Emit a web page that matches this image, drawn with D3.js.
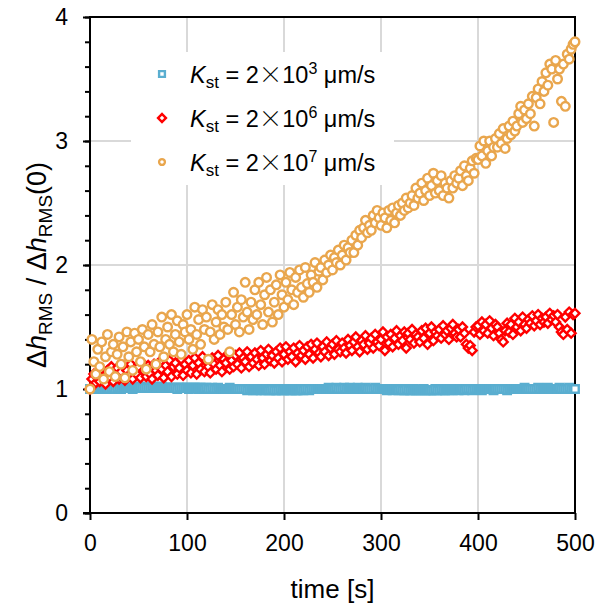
<!DOCTYPE html>
<html lang="en">
<head>
    <meta charset="UTF-8">
    <title>Δh_RMS ratio vs time</title>
    <script src="https://d3js.org/d3.v7.min.js"></script>
    <style>
        body { margin: 0; background: #fff; }
        svg text { font-family: "Liberation Sans", Arial, sans-serif; fill: #000; }
        .grid line { stroke: #d9d9d9; stroke-width: 2; }
        .axis path, .axis line { stroke: #000; stroke-width: 2; }
        .axis text { font-size: 23px; }
    </style>
</head>
<body>
<svg width="598" height="606"></svg>
<script>
    // time axis [s], sampled every 2 s
    const times = d3.range(0, 501, 2);

    // Kst = 2x10^3 um/s (blue squares)
    const blueVals = [
        1.00,1.00,1.00,1.01,1.00,1.00,1.01,1.00,1.01,1.01,
        1.00,1.01,1.01,1.00,1.01,1.01,1.00,1.01,1.01,1.01,
        1.01,1.01,1.00,1.01,1.01,1.01,1.02,1.01,1.01,1.01,
        1.01,1.01,1.02,1.01,1.01,1.01,1.01,1.02,1.01,1.01,
        1.01,1.01,1.01,1.01,1.01,1.00,1.01,1.01,1.01,1.01,
        1.01,1.00,1.01,1.01,1.01,1.01,1.00,1.01,1.01,1.00,
        1.01,1.00,1.00,1.01,1.00,1.00,1.01,1.00,1.00,1.00,
        1.00,1.00,1.01,1.00,1.00,1.00,1.00,1.00,1.00,1.00,
        1.00,0.99,1.00,1.00,0.99,1.00,0.99,1.00,0.99,1.00,
        0.99,1.00,0.99,0.99,1.00,0.99,0.99,0.99,1.00,0.99,
        0.99,1.00,0.99,0.99,0.99,1.00,0.99,0.99,0.99,1.00,
        0.99,1.00,1.00,0.99,1.00,1.00,1.00,1.00,1.00,1.00,
        1.00,1.00,1.00,1.01,1.00,1.00,1.00,1.01,1.00,1.00,
        1.00,1.01,1.00,1.00,1.01,1.00,1.00,1.00,1.01,1.00,
        1.00,1.00,1.01,1.00,1.00,1.00,1.00,1.01,1.00,1.00,
        1.00,1.00,1.00,0.99,1.00,1.00,0.99,1.00,1.00,0.99,
        1.00,0.99,0.99,1.00,0.99,0.99,0.99,1.00,0.99,0.99,
        0.99,0.99,1.00,0.99,0.99,0.99,0.99,0.99,1.00,0.99,
        0.99,1.00,0.99,0.99,1.00,0.99,1.00,0.99,1.00,1.00,
        0.99,1.00,1.00,0.99,1.00,1.00,1.00,0.99,1.00,1.00,
        1.00,1.00,0.99,1.00,1.00,1.00,1.00,1.00,0.99,1.00,
        1.00,1.00,1.00,1.00,1.00,0.99,1.00,1.00,1.00,1.00,
        1.00,1.00,1.00,1.00,1.01,1.00,1.00,1.00,1.00,1.00,
        1.00,1.01,1.00,1.00,1.00,1.00,1.01,1.00,1.00,1.00,
        1.00,1.00,1.01,1.00,1.00,1.00,1.00,1.01,1.00,1.00,
        1.00
    ];

    // Kst = 2x10^6 um/s (red diamonds)
    const redVals = [
        1.00,1.08,1.12,1.05,1.14, 1.06,1.16,1.10,1.04,1.15,
        1.09,1.18,1.06,1.13,1.17, 1.08,1.14,1.19,1.07,1.15,
        1.11,1.20,1.08,1.16,1.12, 1.18,1.09,1.21,1.14,1.10,
        1.19,1.12,1.08,1.20,1.15, 1.11,1.22,1.16,1.09,1.19,
        1.14,1.23,1.10,1.18,1.21, 1.12,1.17,1.24,1.11,1.20,
        1.15,1.23,1.13,1.19,1.25, 1.12,1.21,1.16,1.26,1.14,
        1.22,1.18,1.13,1.25,1.20, 1.16,1.27,1.19,1.14,1.24,
        1.21,1.28,1.16,1.23,1.18, 1.27,1.20,1.29,1.17,1.25,
        1.22,1.30,1.18,1.26,1.21, 1.29,1.24,1.19,1.31,1.25,
        1.20,1.28,1.32,1.23,1.27, 1.21,1.30,1.25,1.33,1.22,
        1.28,1.34,1.24,1.30,1.26, 1.33,1.22,1.29,1.35,1.27,
        1.31,1.24,1.34,1.28,1.36, 1.25,1.32,1.37,1.29,1.26,
        1.34,1.30,1.38,1.27,1.33, 1.36,1.28,1.39,1.32,1.30,
        1.37,1.33,1.29,1.40,1.35, 1.31,1.38,1.42,1.34,1.30,
        1.39,1.36,1.43,1.32,1.37, 1.41,1.33,1.44,1.38,1.35,
        1.40,1.46,1.31,1.42,1.37, 1.44,1.34,1.41,1.47,1.36,
        1.43,1.39,1.46,1.33,1.45, 1.40,1.48,1.37,1.44,1.42,
        1.38,1.47,1.41,1.49,1.36, 1.45,1.50,1.39,1.46,1.43,
        1.48,1.41,1.51,1.44,1.47, 1.40,1.49,1.52,1.45,1.42,
        1.48,1.42,1.50,1.45,1.36, 1.33,1.35,1.31,1.46,1.50,
        1.51,1.44,1.54,1.47,1.52, 1.45,1.55,1.49,1.43,1.52,
        1.50,1.45,1.40,1.38,1.47, 1.53,1.46,1.52,1.44,1.57,
        1.50,1.54,1.47,1.58,1.52, 1.49,1.56,1.53,1.59,1.51,
        1.55,1.60,1.52,1.57,1.54, 1.58,1.53,1.61,1.56,1.59,
        1.54,1.60,1.50,1.46,1.44, 1.58,1.48,1.62,1.45,1.60,
        1.61
    ];

    // Kst = 2x10^7 um/s (orange circles)
    const orangeVals = [
        1.00,1.40,1.22,1.12,1.32, 1.18,1.38,1.08,1.26,1.44,
        1.14,1.30,1.36,1.10,1.28, 1.42,1.20,1.34,1.09,1.46,
        1.26,1.38,1.15,1.45,1.30, 1.40,1.22,1.48,1.34,1.16,
        1.44,1.30,1.52,1.36,1.20, 1.46,1.34,1.58,1.26,1.40,
        1.50,1.36,1.60,1.30,1.44, 1.55,1.38,1.28,1.52,1.46,
        1.60,1.40,1.48,1.32,1.66, 1.44,1.56,1.36,1.64,1.48,
        1.58,1.24,1.46,1.68,1.40, 1.54,1.64,1.44,1.60,1.50,
        1.70,1.48,1.30,1.60,1.78, 1.52,1.66,1.46,1.72,1.58,
        1.86,1.62,1.48,1.70,1.56, 1.80,1.60,1.86,1.68,1.52,
        1.76,1.90,1.62,1.80,1.54, 1.70,1.84,1.60,1.92,1.76,
        1.66,1.86,1.72,1.94,1.80, 1.68,1.90,1.78,1.96,1.82,
        1.74,1.98,1.85,1.78,1.92, 1.86,2.02,1.82,1.95,1.98,
        1.88,2.04,1.94,2.00,2.08, 1.96,2.06,2.02,2.12,2.00,
        2.08,2.16,2.04,2.14,2.10, 2.20,2.10,2.24,2.16,2.28,
        2.22,2.30,2.36,2.26,2.32, 2.28,2.40,2.34,2.44,2.38,
        2.32,2.42,2.38,2.30,2.44, 2.36,2.46,2.34,2.42,2.48,
        2.40,2.50,2.44,2.54,2.46, 2.50,2.56,2.48,2.62,2.54,
        2.58,2.66,2.52,2.60,2.70, 2.56,2.64,2.74,2.58,2.68,
        2.60,2.72,2.56,2.66,2.62, 2.54,2.68,2.62,2.72,2.66,
        2.70,2.76,2.64,2.80,2.72, 2.68,2.78,2.84,2.74,2.86,
        2.85,2.96,2.88,3.00,2.82, 2.92,3.00,2.88,2.95,3.02,
        2.95,3.06,2.98,3.10,2.94, 3.02,3.12,3.05,3.16,3.08,
        3.12,3.22,3.28,3.15,3.25, 3.18,3.30,3.22,3.36,3.12,
        3.35,3.42,3.30,3.48,3.40, 3.55,3.45,3.62,3.58,3.15,
        3.65,3.50,3.58,3.32,3.62, 3.28,3.70,3.66,3.74,3.78,
        3.80
    ];

    const xTicks = [0, 100, 200, 300, 400, 500];
    const yTicks = [0, 1, 2, 3, 4];
    const yMinorTicks = d3.range(0, 4.001, 0.2);

    const series = [
        { name: "3", values: blueVals, color: "#5aaed0", shape: "square" },
        { name: "6", values: redVals, color: "#ff0000", shape: "diamond" },
        { name: "7", values: orangeVals, color: "#e9a64d", shape: "circle" }
    ];

    const svg = d3.select("svg");
    const x = d3.scaleLinear().domain([0, 500]).range([90, 575]);
    const y = d3.scaleLinear().domain([0, 4]).range([513, 17]);

    // grid
    const grid = svg.append("g").attr("class", "grid");
    grid.selectAll(".gx").data(xTicks.slice(1, -1)).enter().append("line")
        .attr("x1", d => x(d)).attr("x2", d => x(d))
        .attr("y1", y(0)).attr("y2", y(4));
    grid.selectAll(".gy").data(yTicks.slice(1, -1)).enter().append("line")
        .attr("x1", x(0)).attr("x2", x(500))
        .attr("y1", d => y(d)).attr("y2", d => y(d));

    // legend background covers grid
    svg.append("rect").attr("x", 131).attr("y", 52).attr("width", 263).attr("height", 133)
        .attr("fill", "#fff");

    // frame (top / right)
    svg.append("path")
        .attr("d", `M${x(0)},${y(4)}H${x(500)}V${y(0)}`)
        .attr("fill", "none").attr("stroke", "#000").attr("stroke-width", 2);

    // axes
    svg.append("g").attr("class", "axis")
        .attr("transform", `translate(${x(0)},0)`)
        .call(d3.axisLeft(y).tickValues(yMinorTicks).tickSize(5).tickFormat(""))
        .call(g => g.select(".domain").remove());
    svg.append("g").attr("class", "axis")
        .attr("transform", `translate(${x(0)},0)`)
        .call(d3.axisLeft(y).tickValues(yTicks).tickSize(7).tickPadding(15).tickFormat(d3.format("d")))
        .call(g => g.select(".domain").attr("d", `M0,${y(0) + 1}V${y(4) - 1}`));
    svg.append("g").attr("class", "axis")
        .attr("transform", `translate(0,${y(0)})`)
        .call(d3.axisBottom(x).tickValues(xTicks).tickSize(7).tickPadding(15).tickFormat(d3.format("d")))
        .call(g => g.select(".domain").attr("d", `M${x(0) - 7},0H${x(500) + 1}`));

    // marker drawing (white fill, coloured outline)
    function marker(sel, shape, color, scale) {
        if (shape === "square") {
            sel.append("path").attr("d", d3.symbol(d3.symbolSquare, 56 * scale)());
        } else if (shape === "diamond") {
            sel.append("path").attr("d", d3.symbol(d3.symbolSquare, 40 * scale)())
                .attr("transform", "rotate(45)");
        } else {
            sel.append("circle").attr("r", 4.3 * Math.sqrt(scale));
        }
        sel.selectAll("path,circle")
            .attr("fill", "#fff").attr("stroke", color).attr("stroke-width", 2.4);
    }

    series.forEach(s => {
        const g = svg.append("g");
        g.selectAll("g").data(times.map((t, i) => [t, s.values[i]])).enter()
            .append("g")
            .attr("transform", d => `translate(${x(d[0])},${y(d[1])})`)
            .each(function () { marker(d3.select(this), s.shape, s.color, 1); });
    });

    // legend
    const legend = svg.append("g");
    const legendScale = [0.6, 0.78, 0.45];
    series.forEach((s, i) => {
        const cy = 74 + i * 44;
        marker(legend.append("g").attr("transform", `translate(162,${cy})`), s.shape, s.color, legendScale[i]);
        const t = legend.append("text").attr("x", 190).attr("y", cy + 9).attr("font-size", 23.5);
        t.append("tspan").attr("font-style", "italic").text("K");
        t.append("tspan").attr("font-size", 17).attr("dy", 5).text("st");
        t.append("tspan").attr("dy", -5).text(" = 2");
        t.append("tspan").attr("font-family", "'Noto Sans CJK JP'").attr("font-weight", 300).text("×");
        t.append("tspan").text("10");
        t.append("tspan").attr("font-size", 16).attr("dy", -9).text(s.name);
        t.append("tspan").attr("dy", 9).text(" μm/s");
    });

    // axis titles
    svg.append("text").attr("x", (x(0) + x(500)) / 2).attr("y", 598)
        .attr("text-anchor", "middle").attr("font-size", 26).text("time [s]");

    const yt = svg.append("text")
        .attr("transform", `translate(46,${(y(0) + y(4)) / 2}) rotate(-90)`)
        .attr("text-anchor", "middle").attr("font-size", 27);
    yt.append("tspan").text("Δ");
    yt.append("tspan").attr("font-style", "italic").text("h");
    yt.append("tspan").attr("font-size", 19).attr("dy", 6).text("RMS");
    yt.append("tspan").attr("dy", -6).text(" / Δ");
    yt.append("tspan").attr("font-style", "italic").text("h");
    yt.append("tspan").attr("font-size", 19).attr("dy", 6).text("RMS");
    yt.append("tspan").attr("dy", -6).text("(0)");
</script>
</body>
</html>
